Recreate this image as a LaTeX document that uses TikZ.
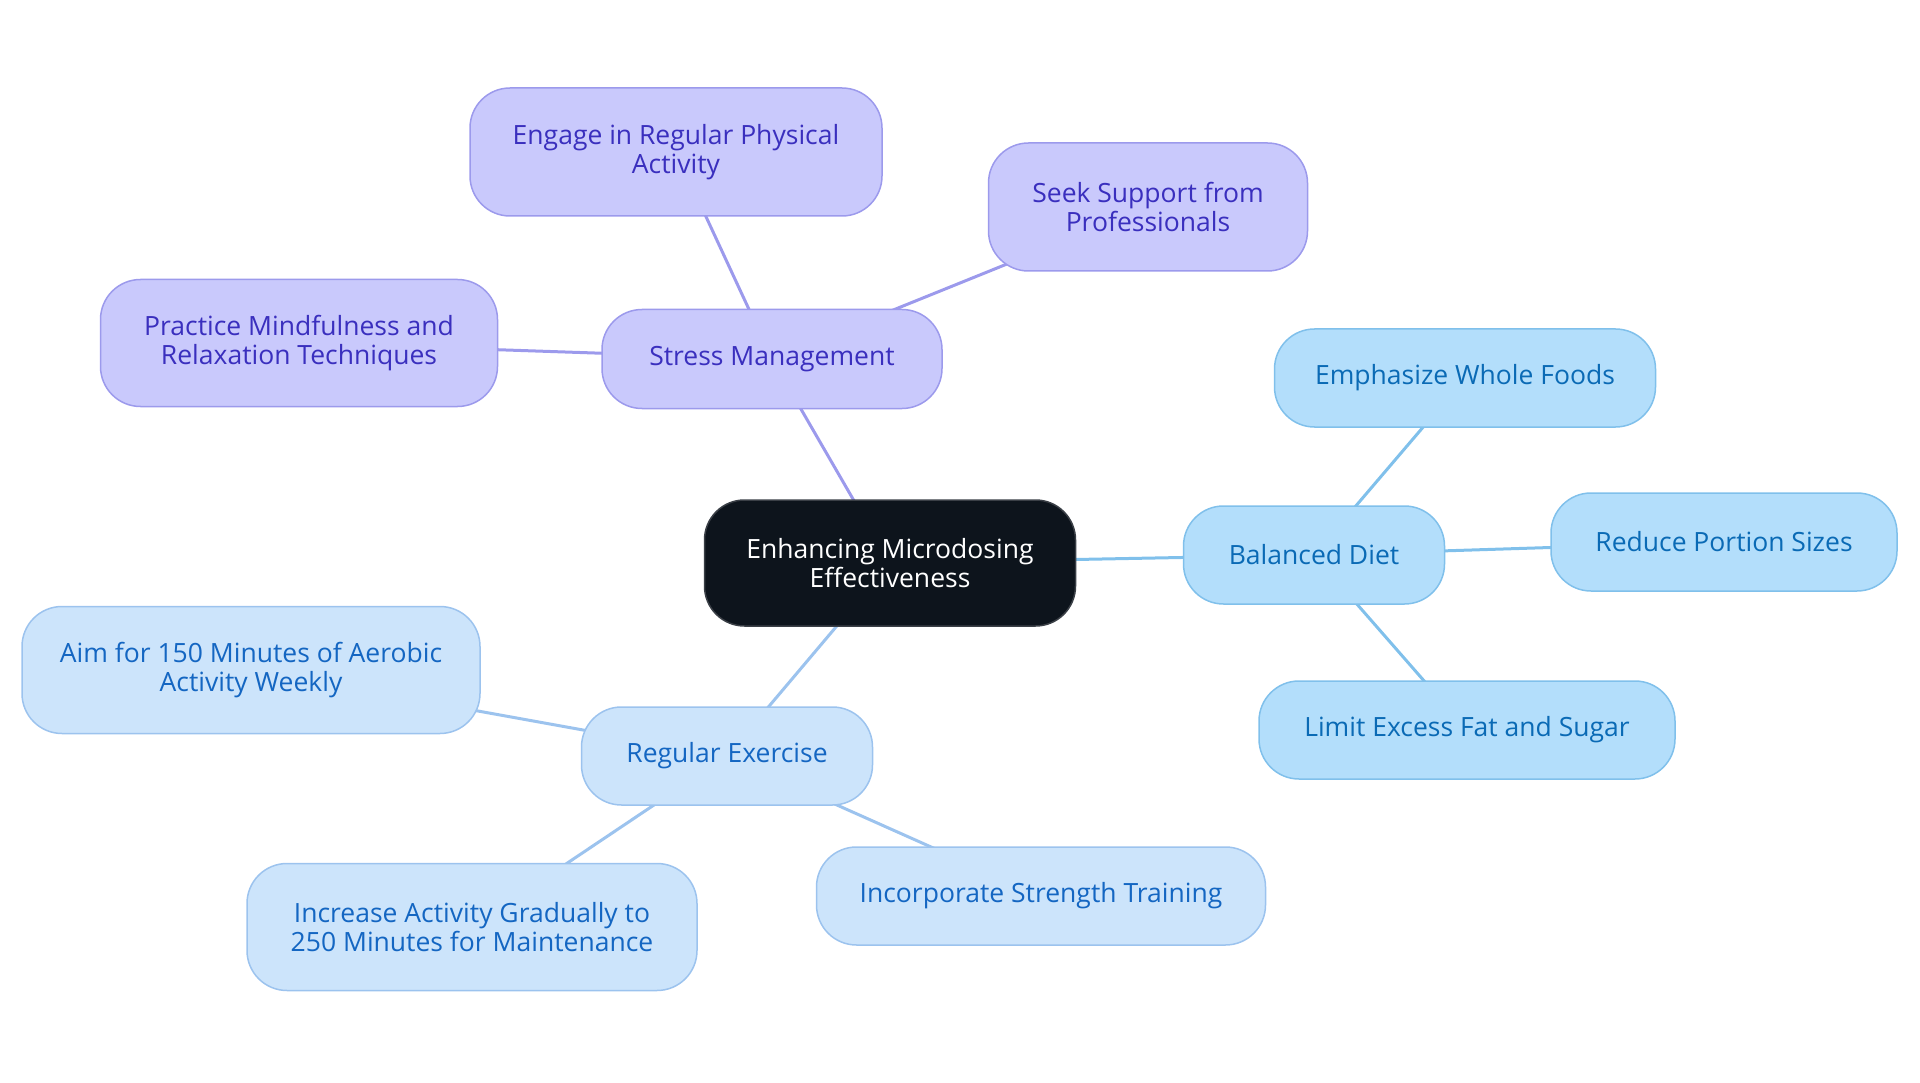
\documentclass[tikz,border=0pt]{standalone}
\usepackage{fontspec}
\setmainfont{Open Sans}
\usetikzlibrary{backgrounds}
\definecolor{pfill}{HTML}{C9C9FC}
\definecolor{pline}{HTML}{9C9AEC}
\definecolor{ptext}{HTML}{3A2FBE}
\definecolor{dfill}{HTML}{B3DEFB}
\definecolor{dline}{HTML}{80C0EB}
\definecolor{dtext}{HTML}{0A6AB5}
\definecolor{efill}{HTML}{CCE4FB}
\definecolor{eline}{HTML}{9CC3EE}
\definecolor{etext}{HTML}{1466C2}
\definecolor{cfill}{HTML}{0D141C}
\definecolor{cline}{HTML}{3A3F46}
\tikzset{
  box/.style={rectangle, rounded corners=40pt, line width=1.5pt, align=center,
    font=\fontsize{26.5}{29}\selectfont, inner sep=0pt},
  pbox/.style={box, fill=pfill, draw=pline, text=ptext},
  dbox/.style={box, fill=dfill, draw=dline, text=dtext},
  ebox/.style={box, fill=efill, draw=eline, text=etext},
  cbox/.style={box, fill=cfill, draw=cline, text=white},
  pedge/.style={draw=pline, line width=3pt},
  dedge/.style={draw=dline, line width=3pt},
  eedge/.style={draw=eline, line width=3pt},
}
\begin{document}
\begin{tikzpicture}[x=1pt,y=-1pt]
\useasboundingbox (0,0) rectangle (1920,1083);
\node[cbox, minimum width=371pt, minimum height=126pt] (c) at (890,563) {Enhancing Microdosing\\Effectiveness};
\node[pbox, minimum width=340pt, minimum height=99pt] (sm) at (772,359) {Stress Management};
\node[pbox, minimum width=412pt, minimum height=128pt] (eg) at (676,152) {Engage in Regular Physical\\Activity};
\node[pbox, minimum width=319pt, minimum height=128pt] (ss) at (1148,207) {Seek Support from\\Professionals};
\node[pbox, minimum width=397pt, minimum height=127pt] (pm) at (299,343) {Practice Mindfulness and\\Relaxation Techniques};
\node[dbox, minimum width=261pt, minimum height=98pt] (bd) at (1314,555) {Balanced Diet};
\node[dbox, minimum width=381pt, minimum height=98pt] (wf) at (1465,378) {Emphasize Whole Foods};
\node[dbox, minimum width=346pt, minimum height=98pt] (rp) at (1724,542) {Reduce Portion Sizes};
\node[dbox, minimum width=416pt, minimum height=98pt] (lf) at (1467,730) {Limit Excess Fat and Sugar};
\node[ebox, minimum width=291pt, minimum height=98pt] (re) at (727,756) {Regular Exercise};
\node[ebox, minimum width=458pt, minimum height=127pt] (am) at (251,670) {Aim for 150 Minutes of Aerobic\\Activity Weekly};
\node[ebox, minimum width=450pt, minimum height=127pt] (ia) at (472,927) {Increase Activity Gradually to\\250 Minutes for Maintenance};
\node[ebox, minimum width=449pt, minimum height=98pt] (st) at (1041,896) {Incorporate Strength Training};
\begin{scope}[on background layer]
\draw[pedge] (c.center) -- (sm.center);
\draw[pedge] (sm.center) -- (eg.center);
\draw[pedge] (sm.center) -- (ss.center);
\draw[pedge] (sm.center) -- (pm.center);
\draw[dedge] (c.center) -- (bd.center);
\draw[dedge] (bd.center) -- (wf.center);
\draw[dedge] (bd.center) -- (rp.center);
\draw[dedge] (bd.center) -- (lf.center);
\draw[eedge] (c.center) -- (re.center);
\draw[eedge] (re.center) -- (am.center);
\draw[eedge] (re.center) -- (ia.center);
\draw[eedge] (re.center) -- (st.center);
\end{scope}
\end{tikzpicture}
\end{document}
